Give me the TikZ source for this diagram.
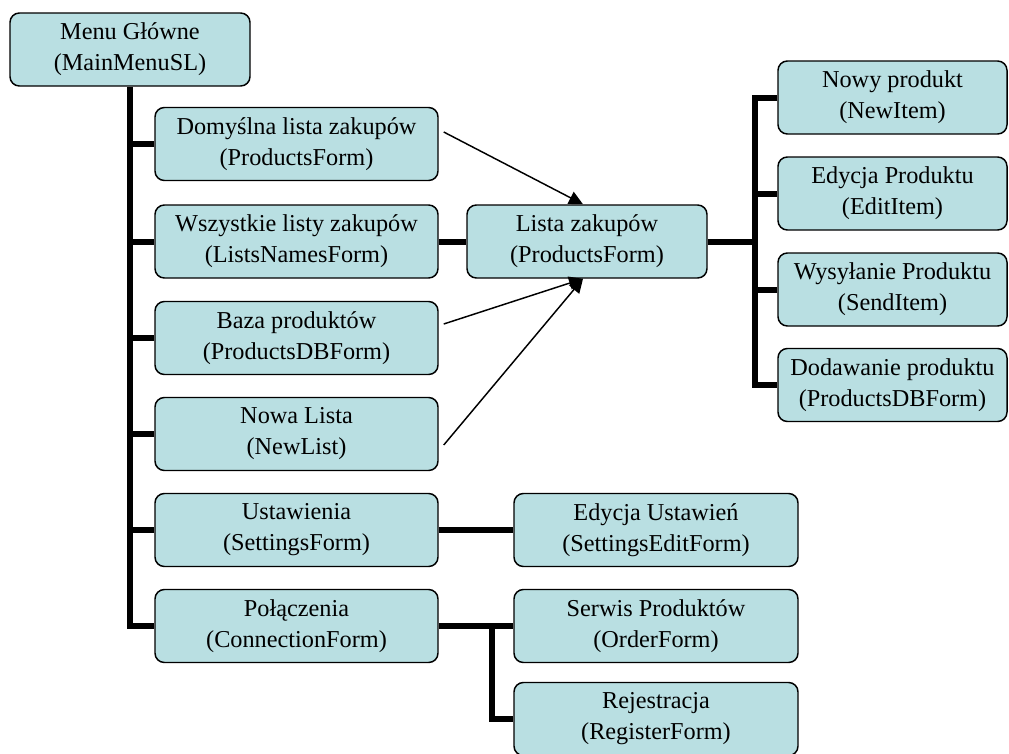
\documentclass[tikz,border=0pt]{standalone}
\usepackage{fontspec}
\setmainfont{Liberation Serif}
\usetikzlibrary{arrows.meta}
\definecolor{boxfill}{HTML}{B9DFE2}
\tikzset{
  formbox/.style={draw=black, line width=1.1pt, fill=boxfill, rounded corners=7pt,
    align=center, inner sep=0pt, minimum height=54.75pt,
    font=\fontsize{18.2}{23.3}\selectfont},
  leftbox/.style={formbox, minimum width=212.25pt},
  midbox/.style={formbox, minimum width=180pt},
  rightbox/.style={formbox, minimum width=171.75pt},
  subbox/.style={formbox, minimum width=213pt},
  link/.style={line width=4.5pt, line join=miter, line cap=butt},
  flow/.style={line width=1.1pt, -{Triangle[length=10.5pt,width=10pt]}}
}
\begin{document}
\begin{tikzpicture}[x=0.75pt, y=-0.75pt]
\useasboundingbox (0,0) rectangle (1009,753);
\clip (0,0) rectangle (1009,753);

% main menu
\node[midbox] (menu) at (130,49.5) {Menu Główne\\(MainMenuSL)};

% first-level forms
\node[leftbox] (dom) at (296.5,144) {Domyślna lista zakupów\\(ProductsForm)};
\node[leftbox] (wsz) at (296.5,241.5) {Wszystkie listy zakupów\\(ListsNamesForm)};
\node[leftbox] (baza) at (296.5,338) {Baza produktów\\(ProductsDBForm)};
\node[leftbox] (nowa) at (296.5,434) {Nowa Lista\\(NewList)};
\node[leftbox] (ust) at (296.5,530) {Ustawienia\\(SettingsForm)};
\node[leftbox] (pol) at (296.5,626) {Połączenia\\(ConnectionForm)};

% shopping list and its item forms
\node[midbox] (lista) at (587,241.5) {Lista zakupów\\(ProductsForm)};
\node[rightbox] (nowy) at (892.5,97.5) {Nowy produkt\\(NewItem)};
\node[rightbox] (edy) at (892.5,193.5) {Edycja Produktu\\(EditItem)};
\node[rightbox] (wys) at (892.5,289.5) {Wysyłanie Produktu\\(SendItem)};
\node[rightbox] (dod) at (892.5,385) {Dodawanie produktu\\(ProductsDBForm)};

% settings and connection sub-forms
\node[subbox] (eus) at (656,530) {Edycja Ustawień\\(SettingsEditForm)};
\node[subbox] (ser) at (656,626) {Serwis Produktów\\(OrderForm)};
\node[subbox] (rej) at (656,719) {Rejestracja\\(RegisterForm)};

\coordinate (rt) at (755,241.5);
\coordinate (st) at (492,626);

% main menu tree
\draw[link] (menu.south) |- (pol.west);
\foreach \n in {dom,wsz,baza,nowa,ust}
  \draw[link] (\n.west) -- (\n.west -| menu.south);

% list and item forms
\draw[link] (wsz.east) -- (lista.west);
\draw[link] (lista.east) -- (rt);
\draw[link] (nowy.west) -- (nowy.west -| rt) -- (dod.west -| rt) -- (dod.west);
\draw[link] (edy.west) -- (edy.west -| rt);
\draw[link] (wys.west) -- (wys.west -| rt);

% settings and connection
\draw[link] (ust.east) -- (eus.west);
\draw[link] (pol.east) -- (ser.west);
\draw[link] (st) |- (rej.west);

% forms that open the shopping list
\draw[flow] ([shift={(5,-12)}]dom.east) -- ([xshift=-3pt]lista.north);
\draw[flow] ([shift={(5,-14)}]baza.east) -- ([xshift=-3pt]lista.south);
\draw[flow] ([shift={(5,11)}]nowa.east) -- ([xshift=-3pt]lista.south);
\end{tikzpicture}
\end{document}
